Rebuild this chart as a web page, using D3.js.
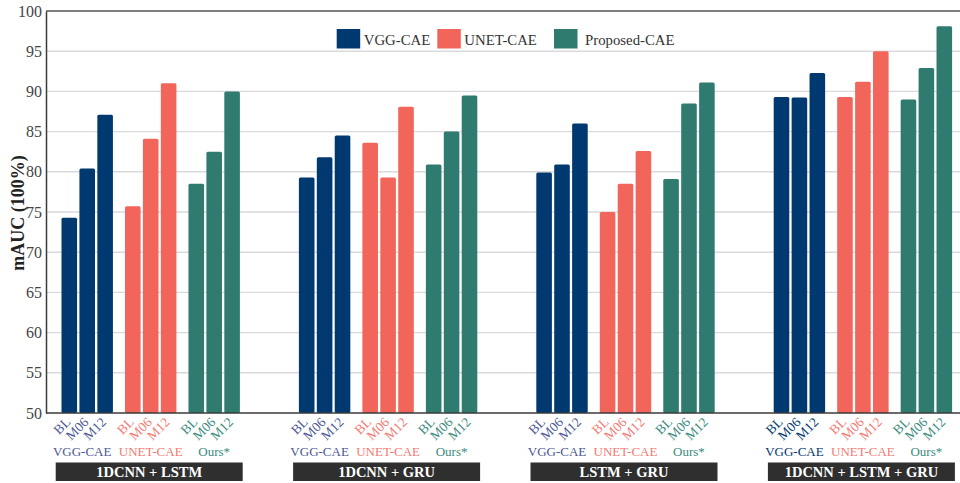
<!DOCTYPE html>
<html>
<head>
<meta charset="utf-8">
<script src="https://cdn.jsdelivr.net/npm/d3@7"></script>
<style>
  html, body { margin: 0; padding: 0; background: #fff; }
  svg { display: block; }
</style>
</head>
<body>
<svg id="chart" width="960" height="483"></svg>
<script>
// Backbone combinations along the x axis
const groups = ["1DCNN + LSTM", "1DCNN + GRU", "LSTM + GRU", "1DCNN + LSTM + GRU"];
// Autoencoder variants (legend names and the short names under each cluster)
const models = ["VGG-CAE", "UNET-CAE", "Proposed-CAE"];
const modelLabels = ["VGG-CAE", "UNET-CAE", "Ours*"];
// Time points within each cluster
const stages = ["BL", "M06", "M12"];
// mAUC (%) per backbone, each row = [BL, M06, M12]
const vggValues = [
  [74.3, 80.4, 87.1],
  [79.3, 81.8, 84.5],
  [79.9, 80.9, 86.0],
  [89.3, 89.25, 92.3]
];
const unetValues = [
  [75.7, 84.1, 91.0],
  [83.6, 79.3, 88.1],
  [75.0, 78.5, 82.6],
  [89.3, 91.2, 95.0]
];
const proposedValues = [
  [78.5, 82.5, 90.0],
  [80.9, 85.0, 89.5],
  [79.1, 88.5, 91.1],
  [89.0, 92.9, 98.1]
];
const yTicks = [50, 55, 60, 65, 70, 75, 80, 85, 90, 95, 100];

const seriesValues = [vggValues, unetValues, proposedValues];
const barColors = ["#003870", "#f2655b", "#2f7b70"];
const labelColors = ["#4b5895", "#f47a72", "#3a8a7e"];
const SERIF = "'Liberation Serif', 'Times New Roman', Times, 'DejaVu Serif', serif";

const svg = d3.select("#chart").style("font-family", SERIF);
const W = 960;
const plot = { left: 46, top: 11, right: 960, bottom: 413 };

const y = d3.scaleLinear().domain([50, 100]).range([plot.bottom, plot.top]);
const xGroup = d3.scaleBand().domain(groups).range([32, 981.6]).padding(0);
const groupSpan = 178.4;
const xModel = d3.scaleBand().domain(models).range([0, groupSpan]).paddingInner(0.19).paddingOuter(0);
const xStage = d3.scaleBand().domain(stages).range([0, xModel.bandwidth()]).paddingInner(0.13).paddingOuter(0);

const groupStart = g => xGroup(g) + xGroup.bandwidth() / 2 - groupSpan / 2;

// Horizontal gridlines
svg.append("g")
  .selectAll("line")
  .data(yTicks.filter(t => t > 50 && t < 100))
  .join("line")
  .attr("x1", plot.left).attr("x2", W)
  .attr("y1", d => y(d)).attr("y2", d => y(d))
  .attr("stroke", "#d9d9de").attr("stroke-width", 1.4);

// Y axis with serif tick labels
const yAxis = d3.axisLeft(y).tickValues(yTicks).tickSize(0).tickPadding(4);
const yg = svg.append("g").attr("transform", `translate(${plot.left},0)`).call(yAxis);
yg.attr("font-family", null).attr("font-size", null);
yg.select(".domain").attr("stroke", "#3a3a3a").attr("stroke-width", 1.5);
yg.selectAll("text")
  .style("font-family", SERIF)
  .attr("font-size", 16)
  .attr("fill", "#444");

// Top frame line
svg.append("line")
  .attr("x1", plot.left).attr("x2", W)
  .attr("y1", y(100)).attr("y2", y(100))
  .attr("stroke", "#555").attr("stroke-width", 1.5);

// Bars
const barData = [];
groups.forEach((g, gi) => {
  models.forEach((m, mi) => {
    stages.forEach((s, si) => {
      barData.push({ g, m, s, mi, gi, v: seriesValues[mi][gi][si] });
    });
  });
});

svg.append("g")
  .selectAll("rect")
  .data(barData)
  .join("rect")
  .attr("x", d => groupStart(d.g) + xModel(d.m) + xStage(d.s))
  .attr("width", xStage.bandwidth())
  .attr("y", d => y(d.v))
  .attr("height", d => y(50) - y(d.v))
  .attr("rx", 1.5)
  .attr("fill", d => barColors[d.mi]);

// Bottom axis line
svg.append("line")
  .attr("x1", plot.left).attr("x2", W)
  .attr("y1", y(50)).attr("y2", y(50))
  .attr("stroke", "#3a3a3a").attr("stroke-width", 1.5);

// Rotated stage labels under each bar
svg.append("g")
  .selectAll("text")
  .data(barData)
  .join("text")
  .attr("transform", d => {
    const cx = groupStart(d.g) + xModel(d.m) + xStage(d.s) + xStage.bandwidth() / 2 + 2;
    return `translate(${cx},${plot.bottom + 10}) rotate(-45)`;
  })
  .attr("text-anchor", "end")
  .attr("font-size", 13.5)
  .attr("fill", d => (d.mi === 0 && d.gi === 3) ? barColors[0] : labelColors[d.mi])
  .text(d => d.s);

// Short model names under each cluster
const modelDx = [-5, 0, 0];
const clusterData = [];
groups.forEach((g, gi) => models.forEach((m, mi) => clusterData.push({ g, gi, m, mi })));
svg.append("g")
  .selectAll("text")
  .data(clusterData)
  .join("text")
  .attr("x", d => groupStart(d.g) + xModel(d.m) + xModel.bandwidth() / 2 + modelDx[d.mi])
  .attr("y", 456)
  .attr("text-anchor", "middle")
  .attr("font-size", 13)
  .attr("fill", d => (d.mi === 0 && d.gi === 3) ? barColors[0] : labelColors[d.mi])
  .text(d => modelLabels[d.mi]);

// Backbone name plates
const plates = svg.append("g")
  .selectAll("g")
  .data(groups)
  .join("g")
  .attr("transform", g => `translate(${xGroup(g) + xGroup.bandwidth() / 2 - 1.5},0)`);
plates.append("rect")
  .attr("x", -93.5).attr("width", 187)
  .attr("y", 462.5).attr("height", 18.5)
  .attr("fill", "#2f2f2f");
plates.append("text")
  .attr("x", 0).attr("y", 476.5)
  .attr("text-anchor", "middle")
  .attr("font-size", 14.5)
  .attr("font-weight", "bold")
  .attr("fill", "#fff")
  .text(g => g);

// Y axis title
svg.append("text")
  .attr("transform", "translate(24,213) rotate(-90)")
  .attr("text-anchor", "middle")
  .attr("font-size", 18)
  .attr("font-weight", "bold")
  .attr("fill", "#222")
  .text("mAUC (100%)");

// Legend
const legendX = [336.7, 437.3, 554];
const legend = svg.append("g")
  .selectAll("g")
  .data(models)
  .join("g")
  .attr("transform", (d, i) => `translate(${legendX[i]},29)`);
legend.append("rect")
  .attr("width", 23.5).attr("height", 19.5)
  .attr("fill", (d, i) => barColors[i]);
legend.append("text")
  .attr("x", (d, i) => i === 2 ? 31 : 27)
  .attr("y", 15.5)
  .attr("font-size", 14.8)
  .attr("fill", "#333")
  .text(d => d);
</script>
</body>
</html>
